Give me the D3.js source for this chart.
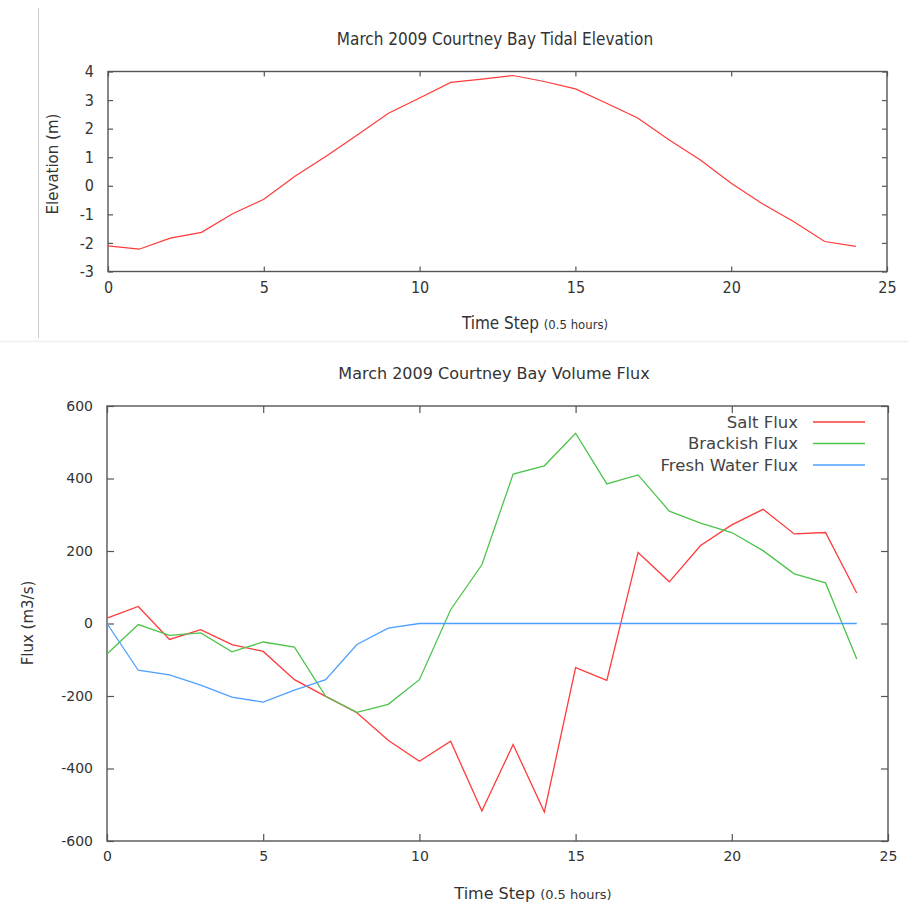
<!DOCTYPE html>
<html><head><meta charset="utf-8">
<script src="https://cdn.jsdelivr.net/npm/d3@7"></script>
<style>
html,body{margin:0;padding:0;background:#fff;}
svg{display:block;}
</style></head>
<body>
<svg id="chart" width="908" height="907"></svg>
<script>
// ---------- data ----------
const steps = d3.range(0, 25);
const elevation = [-2.1, -2.22, -1.83, -1.63, -0.98, -0.47, 0.33, 1.03, 1.78, 2.54, 3.07, 3.62, 3.73, 3.86, 3.65, 3.39, 2.89, 2.37, 1.61, 0.91, 0.09, -0.63, -1.25, -1.95, -2.12];
const saltFlux = [15, 47, -44, -17, -58, -77, -155, -201, -246, -322, -380, -325, -517, -334, -520, -122, -157, 196, 115, 215, 272, 315, 247, 251, 84];
const brackishFlux = [-84, -3, -33, -26, -78, -51, -65, -201, -245, -223, -155, 38, 162, 412, 435, 525, 385, 410, 310, 277, 251, 201, 137, 112, -98];
const freshFlux = [0, -129, -142, -170, -203, -217, -184, -155, -58, -13, 0, 0, 0, 0, 0, 0, 0, 0, 0, 0, 0, 0, 0, 0, 0];
const xTicks = [0, 5, 10, 15, 20, 25];
const elevTicks = [-3, -2, -1, 0, 1, 2, 3, 4];
const fluxTicks = [-600, -400, -200, 0, 200, 400, 600];
const seriesNames = ["Salt Flux", "Brackish Flux", "Fresh Water Flux"];
const seriesColors = ["#ff3a3a", "#4cc44c", "#4d9fff"];

const svg = d3.select("#chart");
const textCol = "#333";
const frameCol = "#555";
const fmt = d => String(d);
const narrow = "'DejaVu Sans Condensed', 'Liberation Sans Narrow', sans-serif";
const wide = "'DejaVu Sans', sans-serif";

// page separators
svg.append("line").attr("x1", 38.5).attr("x2", 38.5).attr("y1", 8).attr("y2", 338).attr("stroke", "#ccc").attr("stroke-width", 1);
svg.append("line").attr("x1", 0).attr("x2", 908).attr("y1", 341.5).attr("y2", 341.5).attr("stroke", "#eee").attr("stroke-width", 1.5);

function drawFrame(g, x, y, tickLen, fontFam, fontSize, yTicks, pad) {
  const [x0, x1] = x.range();
  const [y0, y1] = y.range(); // y0 bottom, y1 top
  const bottom = g.append("g").attr("transform", `translate(0,${y0})`)
    .call(d3.axisBottom(x).tickValues(xTicks).tickSize(-tickLen).tickPadding(10).tickFormat(fmt));
  const top = g.append("g").attr("transform", `translate(0,${y1})`)
    .call(d3.axisTop(x).tickValues(xTicks).tickSize(-tickLen).tickFormat(""));
  const left = g.append("g").attr("transform", `translate(${x0},0)`)
    .call(d3.axisLeft(y).tickValues(yTicks).tickSize(-tickLen).tickPadding(pad).tickFormat(fmt));
  const right = g.append("g").attr("transform", `translate(${x1},0)`)
    .call(d3.axisRight(y).tickValues(yTicks).tickSize(-tickLen).tickFormat(""));
  [bottom, top, left, right].forEach(a => {
    a.select(".domain").remove();
    a.selectAll(".tick line").attr("stroke", frameCol).attr("stroke-width", 1.2);
    a.selectAll("text").attr("fill", textCol).style("font-family", fontFam).style("font-size", fontSize + "px");
  });
  g.append("rect").attr("x", x0).attr("y", y1).attr("width", x1 - x0).attr("height", y0 - y1)
    .attr("fill", "none").attr("stroke", frameCol).attr("stroke-width", 1.4);
}

// ---------- top chart ----------
{
  const g = svg.append("g");
  const x = d3.scaleLinear().domain([0, 25]).range([108, 887]);
  const y = d3.scaleLinear().domain([-3, 4]).range([271.5, 71.5]);
  drawFrame(g, x, y, 5, narrow, 16, elevTicks, 14);
  const line = d3.line().x((d, i) => x(steps[i])).y(d => y(d));
  g.append("path").datum(elevation).attr("d", line).attr("fill", "none")
    .attr("stroke", "#ff3a3a").attr("stroke-width", 1.2);
  g.append("text").attr("x", 495).attr("y", 45).attr("text-anchor", "middle")
    .style("font-family", narrow).style("font-size", "17px")
    .attr("fill", textCol).text("March 2009 Courtney Bay Tidal Elevation");
  const xl = g.append("text").attr("x", 535).attr("y", 329).attr("text-anchor", "middle")
    .style("font-family", narrow).attr("fill", textCol);
  xl.append("tspan").style("font-size", "17px").text("Time Step ");
  xl.append("tspan").style("font-size", "13px").text("(0.5 hours)");
  g.append("text").attr("transform", "translate(58,164) rotate(-90)").attr("text-anchor", "middle")
    .style("font-family", wide).style("font-size", "15px")
    .attr("fill", textCol).text("Elevation (m)");
}

// ---------- bottom chart ----------
{
  const g = svg.append("g");
  const x = d3.scaleLinear().domain([0, 25]).range([107, 888]);
  const y = d3.scaleLinear().domain([-600, 600]).range([841, 406]);
  drawFrame(g, x, y, 7, wide, 14, fluxTicks, 14);
  const line = d3.line().x((d, i) => x(steps[i])).y(d => y(d));
  const all = [saltFlux, brackishFlux, freshFlux];
  all.forEach((s, k) => {
    g.append("path").datum(s).attr("d", line).attr("fill", "none")
      .attr("stroke", seriesColors[k]).attr("stroke-width", 1.3);
  });
  g.append("text").attr("x", 494).attr("y", 379).attr("text-anchor", "middle")
    .style("font-family", wide).style("font-size", "16px")
    .attr("fill", textCol).text("March 2009 Courtney Bay Volume Flux");
  const xl = g.append("text").attr("x", 533).attr("y", 899).attr("text-anchor", "middle")
    .style("font-family", wide).attr("fill", textCol);
  xl.append("tspan").style("font-size", "16px").text("Time Step ");
  xl.append("tspan").style("font-size", "13px").text("(0.5 hours)");
  g.append("text").attr("transform", "translate(33,623) rotate(-90)").attr("text-anchor", "middle")
    .style("font-family", wide).style("font-size", "15px")
    .attr("fill", textCol).text("Flux (m3/s)");
  // legend
  const leg = g.append("g");
  seriesNames.forEach((n, k) => {
    const yy = 422 + k * 21.5;
    leg.append("text").attr("x", 798).attr("y", yy + 5.5).attr("text-anchor", "end")
      .style("font-family", wide).style("font-size", "16.5px")
      .attr("fill", "#444").text(n);
    leg.append("line").attr("x1", 813).attr("x2", 865).attr("y1", yy).attr("y2", yy)
      .attr("stroke", seriesColors[k]).attr("stroke-width", 1.3);
  });
}
</script>
</body></html>
